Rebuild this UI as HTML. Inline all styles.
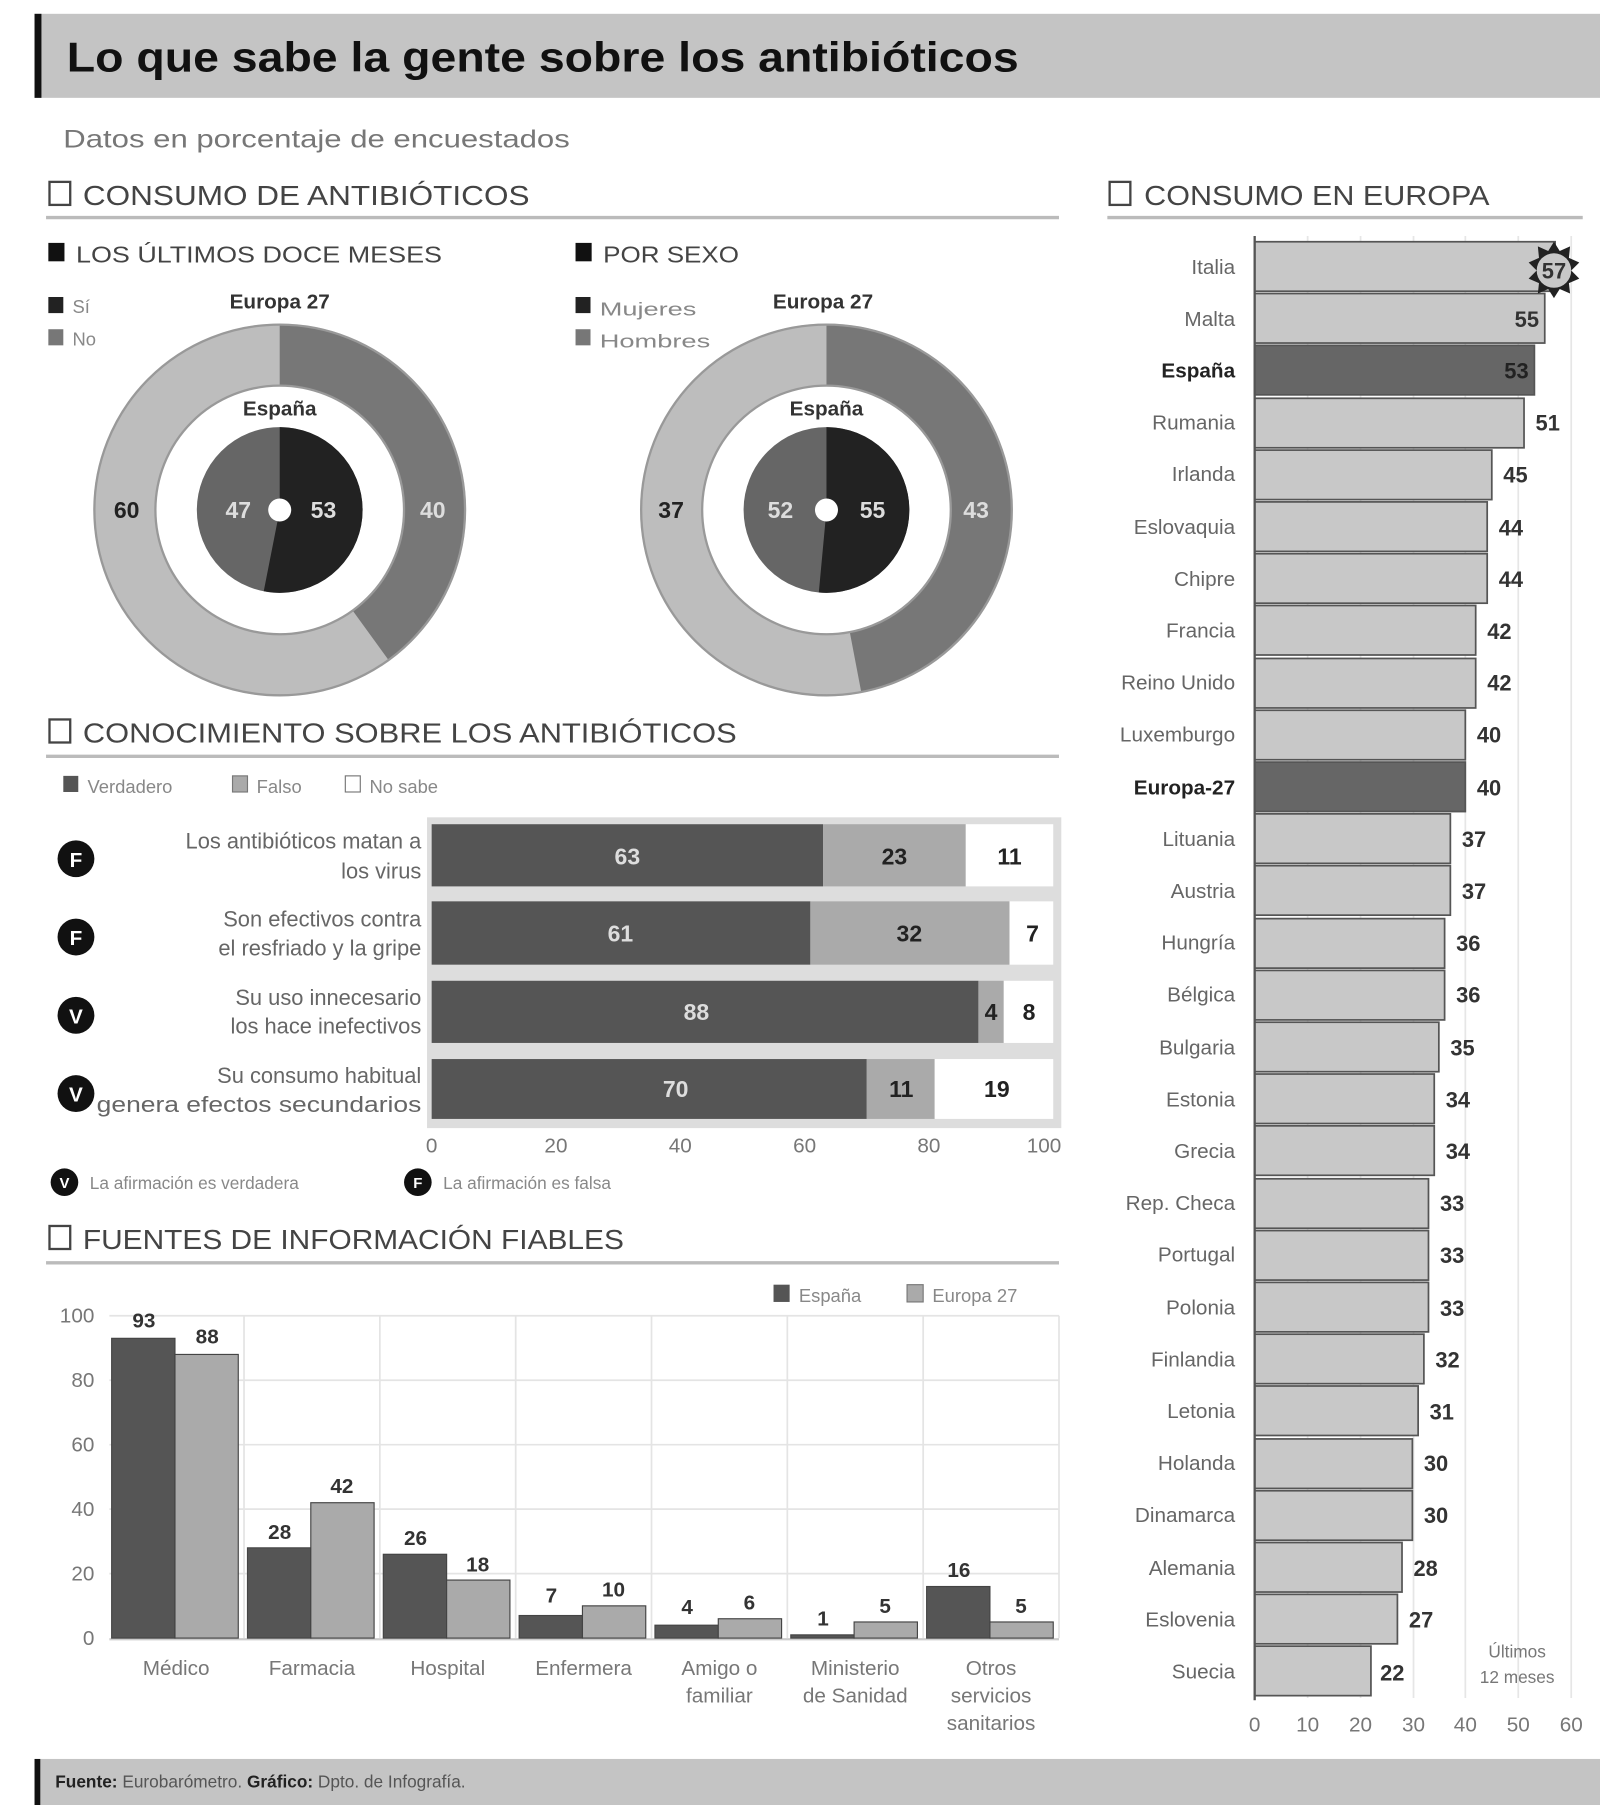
<!DOCTYPE html>
<html><head><meta charset="utf-8"><style>
html,body{margin:0;padding:0;background:#fff;}
svg{display:block;font-family:"Liberation Sans",sans-serif;}
</style></head><body>
<svg width="1600" height="1805" viewBox="0 0 1390 1568" preserveAspectRatio="none" xmlns="http://www.w3.org/2000/svg">
<rect width="1390" height="1568" fill="#fff"/>
<!-- title -->
<rect x="30" y="12" width="1360" height="73" fill="#c4c4c4"/>
<rect x="30" y="12" width="6" height="73" fill="#111"/>
<text x="58" y="62" font-size="36" font-weight="bold" fill="#111" textLength="827" lengthAdjust="spacingAndGlyphs">Lo que sabe la gente sobre los antibióticos</text>
<text x="55" y="128" font-size="22" fill="#777" textLength="440" lengthAdjust="spacingAndGlyphs">Datos en porcentaje de encuestados</text>

<!-- section headers -->
<g font-size="24" fill="#444">
<rect x="43" y="158" width="18" height="20" fill="none" stroke="#444" stroke-width="2"/>
<text x="72" y="178" textLength="388" lengthAdjust="spacingAndGlyphs">CONSUMO DE ANTIBIÓTICOS</text>
<rect x="964" y="158" width="18" height="20" fill="none" stroke="#444" stroke-width="2"/>
<text x="994" y="178" textLength="300" lengthAdjust="spacingAndGlyphs">CONSUMO EN EUROPA</text>
<rect x="43" y="625" width="18" height="20" fill="none" stroke="#444" stroke-width="2"/>
<text x="72" y="645" textLength="568" lengthAdjust="spacingAndGlyphs">CONOCIMIENTO SOBRE LOS ANTIBIÓTICOS</text>
<rect x="43" y="1065" width="18" height="20" fill="none" stroke="#444" stroke-width="2"/>
<text x="72" y="1085" textLength="470" lengthAdjust="spacingAndGlyphs">FUENTES DE INFORMACIÓN FIABLES</text>
</g>
<g stroke="#bbb" stroke-width="3">
<line x1="40" y1="189" x2="920" y2="189"/>
<line x1="962" y1="189" x2="1375" y2="189"/>
<line x1="40" y1="657" x2="920" y2="657"/>
<line x1="40" y1="1097" x2="920" y2="1097"/>
</g>

<!-- subheaders -->
<g font-size="20" fill="#444">
<rect x="42" y="211" width="14" height="16" fill="#111"/>
<text x="66" y="228" textLength="318" lengthAdjust="spacingAndGlyphs">LOS ÚLTIMOS DOCE MESES</text>
<rect x="500" y="211" width="14" height="16" fill="#111"/>
<text x="524" y="228" textLength="118" lengthAdjust="spacingAndGlyphs">POR SEXO</text>
</g>
<g font-size="16" fill="#888">
<rect x="42" y="258" width="13" height="14" fill="#222"/><text x="63" y="272">Sí</text>
<rect x="42" y="286" width="13" height="14" fill="#777"/><text x="63" y="300">No</text>
<rect x="500" y="258" width="13" height="14" fill="#222"/><text x="521" y="274" textLength="84" lengthAdjust="spacingAndGlyphs">Mujeres</text>
<rect x="500" y="286" width="13" height="14" fill="#777"/><text x="521" y="302" textLength="96" lengthAdjust="spacingAndGlyphs">Hombres</text>
</g>
<g font-size="18" font-weight="bold" fill="#333" text-anchor="middle">
<text x="243" y="268">Europa 27</text>
<text x="715" y="268">Europa 27</text>
</g>

<!-- donut 1 -->
<g transform="translate(243,443)">
<circle r="162" fill="#e6e6e6"/>
<circle r="134.5" fill="none" stroke="#bdbdbd" stroke-width="53"/>
<circle r="134.5" fill="none" stroke="#777" stroke-width="53" stroke-dasharray="338 900" transform="rotate(-90)"/>
<circle r="161" fill="none" stroke="#999" stroke-width="2"/>
<circle r="108" fill="#fff" stroke="#999" stroke-width="2"/>
<circle r="36" fill="none" stroke="#666" stroke-width="72"/>
<circle r="36" fill="none" stroke="#222" stroke-width="72" stroke-dasharray="119.9 300" transform="rotate(-90)"/>
<circle r="10" fill="#fff"/>
<text x="0" y="-82" font-size="18" font-weight="bold" fill="#333" text-anchor="middle">España</text>
<g font-size="20" font-weight="bold" text-anchor="middle">
<text x="-133" y="7" fill="#222">60</text>
<text x="133" y="7" fill="#ddd">40</text>
<text x="-36" y="7" fill="#ddd">47</text>
<text x="38" y="7" fill="#ddd">53</text>
</g>
</g>
<!-- donut 2 -->
<g transform="translate(718,443)">
<circle r="162" fill="#e6e6e6"/>
<circle r="134.5" fill="none" stroke="#bdbdbd" stroke-width="53"/>
<circle r="134.5" fill="none" stroke="#777" stroke-width="53" stroke-dasharray="397 900" transform="rotate(-90)"/>
<circle r="161" fill="none" stroke="#999" stroke-width="2"/>
<circle r="108" fill="#fff" stroke="#999" stroke-width="2"/>
<circle r="36" fill="none" stroke="#666" stroke-width="72"/>
<circle r="36" fill="none" stroke="#222" stroke-width="72" stroke-dasharray="116.3 300" transform="rotate(-90)"/>
<circle r="10" fill="#fff"/>
<text x="0" y="-82" font-size="18" font-weight="bold" fill="#333" text-anchor="middle">España</text>
<g font-size="20" font-weight="bold" text-anchor="middle">
<text x="-135" y="7" fill="#222">37</text>
<text x="130" y="7" fill="#ddd">43</text>
<text x="-40" y="7" fill="#ddd">52</text>
<text x="40" y="7" fill="#ddd">55</text>
</g>
</g>

<!-- knowledge legend -->
<g font-size="16" fill="#888">
<rect x="55" y="674" width="13" height="14" fill="#555"/><text x="76" y="689">Verdadero</text>
<rect x="202" y="674" width="13" height="14" fill="#aaa" stroke="#777"/><text x="223" y="689">Falso</text>
<rect x="300" y="674" width="13" height="14" fill="#fff" stroke="#777"/><text x="321" y="689">No sabe</text>
</g>
<!-- knowledge bars -->
<rect x="371" y="710" width="551" height="270" fill="#ddd"/>
<g stroke="#fff" stroke-width="0">
<rect x="375" y="716" width="340" height="54" fill="#555"/><rect x="715" y="716" width="124" height="54" fill="#aaa"/><rect x="839" y="716" width="76" height="54" fill="#fff"/>
<rect x="375" y="783" width="329" height="55" fill="#555"/><rect x="704" y="783" width="173" height="55" fill="#aaa"/><rect x="877" y="783" width="38" height="55" fill="#fff"/>
<rect x="375" y="852" width="475" height="54" fill="#555"/><rect x="850" y="852" width="22" height="54" fill="#aaa"/><rect x="872" y="852" width="43" height="54" fill="#fff"/>
<rect x="375" y="920" width="378" height="52" fill="#555"/><rect x="753" y="920" width="59" height="52" fill="#aaa"/><rect x="812" y="920" width="103" height="52" fill="#fff"/>
</g>
<g font-size="20" font-weight="bold" text-anchor="middle">
<text x="545" y="751" fill="#ddd">63</text><text x="777" y="751" fill="#222">23</text><text x="877" y="751" fill="#222">11</text>
<text x="539" y="818" fill="#ddd">61</text><text x="790" y="818" fill="#222">32</text><text x="897" y="818" fill="#222">7</text>
<text x="605" y="886" fill="#ddd">88</text><text x="861" y="886" fill="#222">4</text><text x="894" y="886" fill="#222">8</text>
<text x="587" y="953" fill="#ddd">70</text><text x="783" y="953" fill="#222">11</text><text x="866" y="953" fill="#222">19</text>
</g>
<g font-size="19" fill="#666" text-anchor="end">
<text x="366" y="737">Los antibióticos matan a</text><text x="366" y="763">los virus</text>
<text x="366" y="805">Son efectivos contra</text><text x="366" y="830">el resfriado y la gripe</text>
<text x="366" y="873">Su uso innecesario</text><text x="366" y="898">los hace inefectivos</text>
<text x="366" y="941">Su consumo habitual</text><text x="366" y="966" textLength="282" lengthAdjust="spacingAndGlyphs">genera efectos secundarios</text>
</g>
<g font-size="18" font-weight="bold" fill="#fff" text-anchor="middle">
<circle cx="66" cy="746" r="16" fill="#111"/><text x="66" y="753">F</text>
<circle cx="66" cy="814" r="16" fill="#111"/><text x="66" y="821">F</text>
<circle cx="66" cy="882" r="16" fill="#111"/><text x="66" y="889">V</text>
<circle cx="66" cy="950" r="16" fill="#111"/><text x="66" y="957">V</text>
</g>
<g font-size="18" fill="#777" text-anchor="middle">
<text x="375" y="1001">0</text><text x="483" y="1001">20</text><text x="591" y="1001">40</text><text x="699" y="1001">60</text><text x="807" y="1001">80</text><text x="907" y="1001">100</text>
</g>
<g font-size="15" fill="#888">
<circle cx="56" cy="1027" r="12" fill="#111"/><text x="56" y="1032" fill="#fff" font-weight="bold" text-anchor="middle" font-size="13">V</text>
<text x="78" y="1033">La afirmación es verdadera</text>
<circle cx="363" cy="1027" r="12" fill="#111"/><text x="363" y="1032" fill="#fff" font-weight="bold" text-anchor="middle" font-size="13">F</text>
<text x="385" y="1033">La afirmación es falsa</text>
</g>

<!-- fuentes chart -->
<g font-size="16" fill="#888">
<rect x="672" y="1116" width="14" height="15" fill="#555"/><text x="694" y="1131">España</text>
<rect x="788" y="1116" width="14" height="15" fill="#aaa" stroke="#777"/><text x="810" y="1131">Europa 27</text>
</g>
<g stroke="#e4e4e4" stroke-width="1.5">
<line x1="95" y1="1143" x2="920" y2="1143"/><line x1="95" y1="1199" x2="920" y2="1199"/><line x1="95" y1="1255" x2="920" y2="1255"/><line x1="95" y1="1311" x2="920" y2="1311"/><line x1="95" y1="1367" x2="920" y2="1367"/>
<line x1="212" y1="1143" x2="212" y2="1423"/><line x1="330" y1="1143" x2="330" y2="1423"/><line x1="448" y1="1143" x2="448" y2="1423"/><line x1="566" y1="1143" x2="566" y2="1423"/><line x1="684" y1="1143" x2="684" y2="1423"/><line x1="802" y1="1143" x2="802" y2="1423"/><line x1="920" y1="1143" x2="920" y2="1423"/>
</g>
<line x1="95" y1="1424" x2="920" y2="1424" stroke="#ccc" stroke-width="2"/>
<g font-size="18" fill="#777" text-anchor="end">
<text x="82" y="1149">100</text><text x="82" y="1205">80</text><text x="82" y="1261">60</text><text x="82" y="1317">40</text><text x="82" y="1373">20</text><text x="82" y="1429">0</text>
</g>
<g stroke="#444" stroke-width="1">
<rect x="97" y="1162.6" width="55" height="260.4" fill="#555"/><rect x="152" y="1176.6" width="55" height="246.4" fill="#aaa"/>
<rect x="215" y="1344.6" width="55" height="78.4" fill="#555"/><rect x="270" y="1305.4" width="55" height="117.6" fill="#aaa"/>
<rect x="333" y="1350.2" width="55" height="72.8" fill="#555"/><rect x="388" y="1372.6" width="55" height="50.4" fill="#aaa"/>
<rect x="451" y="1403.4" width="55" height="19.6" fill="#555"/><rect x="506" y="1395" width="55" height="28" fill="#aaa"/>
<rect x="569" y="1411.8" width="55" height="11.2" fill="#555"/><rect x="624" y="1406.2" width="55" height="16.8" fill="#aaa"/>
<rect x="687" y="1420.2" width="55" height="2.8" fill="#555"/><rect x="742" y="1409" width="55" height="14" fill="#aaa"/>
<rect x="805" y="1378.2" width="55" height="44.8" fill="#555"/><rect x="860" y="1409" width="55" height="14" fill="#aaa"/>
</g>
<g font-size="18" font-weight="bold" fill="#333" text-anchor="middle">
<text x="125" y="1153">93</text><text x="180" y="1167">88</text>
<text x="243" y="1337">28</text><text x="297" y="1297">42</text>
<text x="361" y="1342">26</text><text x="415" y="1365">18</text>
<text x="479" y="1392">7</text><text x="533" y="1387">10</text>
<text x="597" y="1402">4</text><text x="651" y="1398">6</text>
<text x="715" y="1412">1</text><text x="769" y="1401">5</text>
<text x="833" y="1370">16</text><text x="887" y="1401">5</text>
</g>
<g font-size="18" fill="#777" text-anchor="middle">
<text x="153" y="1455">Médico</text><text x="271" y="1455">Farmacia</text><text x="389" y="1455">Hospital</text><text x="507" y="1455">Enfermera</text>
<text x="625" y="1455">Amigo o</text><text x="625" y="1479">familiar</text>
<text x="743" y="1455">Ministerio</text><text x="743" y="1479">de Sanidad</text>
<text x="861" y="1455">Otros</text><text x="861" y="1479">servicios</text><text x="861" y="1503">sanitarios</text>
</g>

<!-- Europe chart -->
<g stroke="#e6e6e6" stroke-width="1.5">
<line x1="1136" y1="205" x2="1136" y2="1475"/><line x1="1182" y1="205" x2="1182" y2="1475"/><line x1="1228" y1="205" x2="1228" y2="1475"/><line x1="1273" y1="205" x2="1273" y2="1475"/><line x1="1319" y1="205" x2="1319" y2="1475"/><line x1="1365" y1="205" x2="1365" y2="1475"/>
</g>
<g id="eu" stroke="#555" stroke-width="1.5">
<rect x="1090" y="210" width="261" height="43" fill="#c8c8c8"/>
<rect x="1090" y="255" width="252" height="43" fill="#c8c8c8"/>
<rect x="1090" y="300" width="243" height="43" fill="#666"/>
<rect x="1090" y="346" width="234" height="43" fill="#c8c8c8"/>
<rect x="1090" y="391" width="206" height="43" fill="#c8c8c8"/>
<rect x="1090" y="436" width="202" height="43" fill="#c8c8c8"/>
<rect x="1090" y="481" width="202" height="43" fill="#c8c8c8"/>
<rect x="1090" y="526" width="192" height="43" fill="#c8c8c8"/>
<rect x="1090" y="572" width="192" height="43" fill="#c8c8c8"/>
<rect x="1090" y="617" width="183" height="43" fill="#c8c8c8"/>
<rect x="1090" y="662" width="183" height="43" fill="#666"/>
<rect x="1090" y="707" width="170" height="43" fill="#c8c8c8"/>
<rect x="1090" y="752" width="170" height="43" fill="#c8c8c8"/>
<rect x="1090" y="798" width="165" height="43" fill="#c8c8c8"/>
<rect x="1090" y="843" width="165" height="43" fill="#c8c8c8"/>
<rect x="1090" y="888" width="160" height="43" fill="#c8c8c8"/>
<rect x="1090" y="933" width="156" height="43" fill="#c8c8c8"/>
<rect x="1090" y="978" width="156" height="43" fill="#c8c8c8"/>
<rect x="1090" y="1024" width="151" height="43" fill="#c8c8c8"/>
<rect x="1090" y="1069" width="151" height="43" fill="#c8c8c8"/>
<rect x="1090" y="1114" width="151" height="43" fill="#c8c8c8"/>
<rect x="1090" y="1159" width="147" height="43" fill="#c8c8c8"/>
<rect x="1090" y="1204" width="142" height="43" fill="#c8c8c8"/>
<rect x="1090" y="1250" width="137" height="43" fill="#c8c8c8"/>
<rect x="1090" y="1295" width="137" height="43" fill="#c8c8c8"/>
<rect x="1090" y="1340" width="128" height="43" fill="#c8c8c8"/>
<rect x="1090" y="1385" width="124" height="43" fill="#c8c8c8"/>
<rect x="1090" y="1430" width="101" height="43" fill="#c8c8c8"/>
</g>
<line x1="1090" y1="205" x2="1090" y2="1477" stroke="#555" stroke-width="2"/>
<g font-size="18" fill="#666" text-anchor="end">
<text x="1073" y="238">Italia</text><text x="1073" y="283">Malta</text><text x="1073" y="328" font-weight="bold" fill="#222">España</text><text x="1073" y="373">Rumania</text>
<text x="1073" y="418">Irlanda</text><text x="1073" y="464">Eslovaquia</text><text x="1073" y="509">Chipre</text><text x="1073" y="554">Francia</text>
<text x="1073" y="599">Reino Unido</text><text x="1073" y="644">Luxemburgo</text><text x="1073" y="690" font-weight="bold" fill="#222">Europa-27</text><text x="1073" y="735">Lituania</text>
<text x="1073" y="780">Austria</text><text x="1073" y="825">Hungría</text><text x="1073" y="870">Bélgica</text><text x="1073" y="916">Bulgaria</text>
<text x="1073" y="961">Estonia</text><text x="1073" y="1006">Grecia</text><text x="1073" y="1051">Rep. Checa</text><text x="1073" y="1096">Portugal</text>
<text x="1073" y="1142">Polonia</text><text x="1073" y="1187">Finlandia</text><text x="1073" y="1232">Letonia</text><text x="1073" y="1277">Holanda</text>
<text x="1073" y="1322">Dinamarca</text><text x="1073" y="1368">Alemania</text><text x="1073" y="1413">Eslovenia</text><text x="1073" y="1458">Suecia</text>
</g>
<polygon points="1350,210 1355,218 1364,214 1363,224 1372,228 1365,235 1372,242 1363,246 1364,255 1355,251 1350,259 1345,251 1336,255 1337,246 1328,242 1335,235 1328,228 1337,224 1336,214 1345,218" fill="#222"/>
<circle cx="1350" cy="235" r="15" fill="#c8c8c8"/>
<g font-size="19" font-weight="bold" fill="#333">
<text x="1350" y="242" text-anchor="middle">57</text>
<text x="1337" y="284" text-anchor="end">55</text>
<text x="1328" y="329" text-anchor="end" fill="#222">53</text>
<text x="1334" y="374">51</text><text x="1306" y="419">45</text><text x="1302" y="465">44</text><text x="1302" y="510">44</text>
<text x="1292" y="555">42</text><text x="1292" y="600">42</text><text x="1283" y="645">40</text><text x="1283" y="691">40</text>
<text x="1270" y="736">37</text><text x="1270" y="781">37</text><text x="1265" y="826">36</text><text x="1265" y="871">36</text>
<text x="1260" y="917">35</text><text x="1256" y="962">34</text><text x="1256" y="1007">34</text><text x="1251" y="1052">33</text>
<text x="1251" y="1097">33</text><text x="1251" y="1143">33</text><text x="1247" y="1188">32</text><text x="1242" y="1233">31</text>
<text x="1237" y="1278">30</text><text x="1237" y="1323">30</text><text x="1228" y="1369">28</text><text x="1224" y="1414">27</text>
<text x="1199" y="1460">22</text>
</g>
<g font-size="15" fill="#777" text-anchor="middle">
<text x="1318" y="1440">Últimos</text><text x="1318" y="1462">12 meses</text>
</g>
<g font-size="18" fill="#777" text-anchor="middle">
<text x="1090" y="1504">0</text><text x="1136" y="1504">10</text><text x="1182" y="1504">20</text><text x="1228" y="1504">30</text><text x="1273" y="1504">40</text><text x="1319" y="1504">50</text><text x="1365" y="1504">60</text>
</g>

<!-- footer -->
<rect x="30" y="1528" width="1360" height="40" fill="#c4c4c4"/>
<rect x="30" y="1528" width="5" height="40" fill="#111"/>
<text x="48" y="1553" font-size="15" fill="#555"><tspan font-weight="bold" fill="#222">Fuente:</tspan> Eurobarómetro. <tspan font-weight="bold" fill="#222">Gráfico:</tspan> Dpto. de Infografía.</text>
</svg>
</body></html>
